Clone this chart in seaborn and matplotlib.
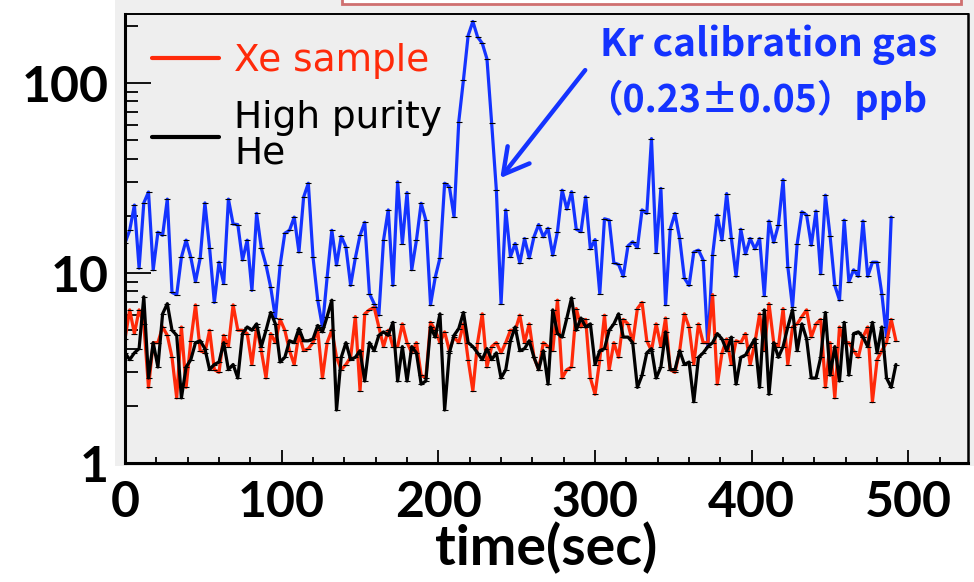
import numpy as np
import pandas as pd
import matplotlib
matplotlib.use('Agg')
import matplotlib.pyplot as plt
import seaborn as sns
from matplotlib.patches import Rectangle
from matplotlib.lines import Line2D
from matplotlib.ticker import LogLocator, NullFormatter, MultipleLocator

sns.set_style('ticks')
plt.rcParams['font.family'] = ['DejaVu Sans']

# sampled every 3 s
kr_gas = [14.4, 16.8, 22.8, 10.6, 23.4, 26.7, 10.4, 16.4, 15.8, 24.5, 7.9, 7.7, 12.1, 14.9, 12.1, 9.0, 12.0, 23.4,
          13.5, 7.0, 11.4, 8.8, 24.5, 18.1, 18.0, 11.7, 14.9,
          8.1, 20.6, 13.5, 11.0, 8.4, 5.8, 11.0, 16.2, 16.8, 19.7, 12.9, 25.1, 29.7, 12.1, 7.2, 5.2, 9.5, 16.8,
          11.0, 15.6, 13.7, 8.6, 12.0, 15.8, 18.5, 7.8, 6.9, 6.0, 14.9,
          21.5, 8.6, 30.2, 14.3, 26.5, 10.4, 14.9, 23.3, 19.0, 6.8, 9.5, 12.0, 29.7, 28.5, 19.8, 62.6, 104, 178,
          211, 175, 162, 134, 61.5, 27.3, 6.9, 21.5, 12.2, 14.3,
          11.3, 15.2, 12.0, 15.5, 18.0, 15.5, 17.2, 12.4, 16.5, 27.3, 21.7, 26.8, 17.0, 16.5, 25.2, 13.4, 15.0,
          7.8, 19.3, 19.0, 11.3, 11.1, 9.6, 13.9, 14.6, 13.6, 21.5,
          20.6, 51.0, 12.8, 27.9, 6.8, 17.1, 20.6, 15.2, 9.4, 8.6, 12.9, 13.2, 11.7, 4.1, 12.4, 20.2, 14.9, 26.2,
          15.2, 9.6, 17.0, 12.6, 15.2, 13.4, 15.2, 7.6, 18.8, 14.5,
          17.9, 31.0, 10.8, 6.6, 14.3, 21.0, 20.2, 14.0, 21.2, 9.9, 25.7, 15.6, 8.6, 7.2, 19.0, 9.0, 10.4, 9.6,
          18.8, 9.6, 11.4, 11.4, 7.8, 4.6, 19.7]

xe_sample = [4.5, 6.4, 4.8, 6.4, 5.4, 2.5, 4.3, 4.3, 5.2, 4.7, 3.6, 2.2, 5.2, 2.5, 4.4, 6.8, 3.9, 3.8, 5.0, 3.1,
             3.0, 4.7, 4.1, 6.8, 5.0, 5.0, 4.8,
             3.3, 5.2, 3.9, 2.8, 4.8, 4.3, 5.7, 5.0, 3.9, 3.3, 4.8, 3.9, 4.0, 4.3, 5.0, 2.8, 4.3, 5.0, 3.6, 3.1,
             3.3, 3.6, 5.9, 2.4, 6.1, 6.4, 6.6, 5.2, 4.1,
             5.0, 4.1, 4.1, 5.4, 4.3, 3.8, 4.3, 2.9, 2.8, 5.5, 5.0, 4.3, 4.9, 3.9, 4.6, 4.3, 5.4, 3.5, 2.4, 4.3,
             6.1, 3.2, 4.1, 4.3, 3.8, 4.3, 5.0, 5.0,
             6.0, 4.3, 5.4, 3.6, 3.1, 4.3, 4.1, 3.9, 7.2, 2.8, 3.1, 3.2, 6.5, 5.2, 5.7, 2.8, 2.3, 3.5, 6.0, 3.1,
             4.3, 3.6, 5.7, 5.4, 4.3, 6.5, 7.0,
             4.4, 3.9, 5.4, 4.1, 5.8, 3.1, 3.0, 3.9, 6.1, 5.2, 3.3, 5.4, 4.3, 4.3, 7.7, 2.6, 3.8, 4.5, 3.3, 4.4,
             4.3, 4.8, 3.3, 4.3, 6.1, 3.9, 6.9, 4.3,
             4.1, 6.5, 3.3, 5.2, 5.4, 5.9, 6.4, 4.6, 5.4, 5.7, 2.5, 4.3, 2.2, 5.2, 4.3, 4.3, 3.9, 3.6, 4.6, 5.2,
             2.1, 3.5, 3.9, 4.3, 5.7, 4.4]

he_purity = [3.8, 3.5, 3.8, 4.0, 7.5, 2.8, 4.3, 3.2, 6.1, 6.9, 5.0, 4.7, 2.2, 3.2, 3.5, 4.3, 4.4, 4.0, 3.1, 3.3,
             3.4, 4.3, 3.1, 3.3, 2.8, 4.8, 5.2,
             5.0, 5.4, 4.1, 5.0, 6.2, 5.4, 3.4, 3.6, 4.4, 4.3, 5.1, 4.4, 4.4, 4.5, 5.3, 4.9, 5.9, 7.2, 1.9, 3.6,
             4.3, 3.5, 3.6, 3.9, 2.7, 4.3, 3.9, 4.7, 4.9,
             4.7, 5.5, 2.7, 4.1, 2.7, 4.1, 3.8, 2.6, 2.7, 5.2, 4.6, 6.1, 1.9, 3.8, 4.7, 5.1, 6.2, 4.3, 4.1, 3.8,
             3.5, 4.0, 3.5, 3.8, 2.8, 3.1, 4.4, 5.2,
             3.9, 4.0, 4.4, 3.6, 3.1, 3.9, 2.6, 6.4, 4.8, 4.6, 5.8, 7.4, 5.0, 5.8, 5.2, 5.4, 3.3, 3.9, 4.0, 5.0,
             5.4, 6.1, 4.6, 4.6, 4.3, 2.5, 2.9,
             3.8, 4.0, 2.8, 3.2, 4.9, 3.1, 3.1, 3.9, 3.3, 3.4, 2.1, 3.6, 3.8, 4.1, 4.3, 4.8, 4.5, 3.9, 4.6, 2.6,
             3.6, 3.7, 4.1, 4.5, 2.5, 6.4, 2.3, 4.3,
             3.6, 4.1, 5.2, 6.4, 3.9, 5.4, 4.5, 2.8, 2.8, 3.6, 6.2, 2.9, 4.1, 2.7, 5.5, 2.9, 4.8, 4.9, 4.6, 4.1,
             5.5, 3.8, 5.2, 2.8, 2.5, 3.3]

time_kr = np.arange(len(kr_gas)) * 3
time_xe = np.arange(len(xe_sample)) * 3
time_he = np.arange(len(he_purity)) * 3

blue = '#1433ff'
red = '#ff2a0a'

fig = plt.figure(figsize=(9.74, 5.82), dpi=100)
# slide panel behind the plot
fig.patches.append(Rectangle((115 / 974, 1 - 466 / 582), 1, 1, transform=fig.transFigure,
                             facecolor='#efefef', edgecolor='none', zorder=-5))
fig.patches.append(Rectangle((342 / 974, 1 - 4 / 582), 619 / 974, 0.05, transform=fig.transFigure,
                             facecolor='white', edgecolor='#cf7070', lw=2, zorder=-4))

ax = fig.add_axes([125 / 974, 1 - 463 / 582, 843 / 974, 449 / 582])
ax.set_facecolor('#eeeeee')

mk = dict(marker='_', markersize=4, markeredgewidth=0.8, markeredgecolor='black')
sns.lineplot(x=time_kr, y=kr_gas, color=blue, lw=2.3, ax=ax, **mk)
sns.lineplot(x=time_xe, y=xe_sample, color=red, lw=2.3, ax=ax, **mk)
sns.lineplot(x=time_he, y=he_purity, color='black', lw=2.3, ax=ax, **mk)

ax.set_yscale('log')
ax.set_xlim(0, 538)
ax.set_ylim(1, 231)
ax.set_yticks([1, 10, 100])
ax.set_yticklabels(['1', '10', '100'])
ax.yaxis.set_minor_locator(LogLocator(base=10, subs=np.arange(2, 10)))
ax.yaxis.set_minor_formatter(NullFormatter())
ax.xaxis.set_major_locator(MultipleLocator(100))
ax.xaxis.set_minor_locator(MultipleLocator(20))

for lab in ax.get_xticklabels() + ax.get_yticklabels():
    lab.set_fontfamily('Lato')
    lab.set_fontweight('bold')
    lab.set_fontsize(36)
    lab.set_color('black')

ax.tick_params(axis='y', which='major', direction='in', length=19, width=1.3, pad=12, color='black')
ax.tick_params(axis='y', which='minor', direction='in', length=9.5, width=1.3, color='black')
ax.tick_params(axis='x', which='major', direction='in', length=9.5, width=1.3, pad=12, color='black')
ax.tick_params(axis='x', which='minor', direction='in', length=4.5, width=1.3, color='black')

for side, w in [('left', 2.2), ('bottom', 2.2), ('top', 1.4), ('right', 1.8)]:
    ax.spines[side].set_linewidth(w)
    ax.spines[side].set_color('black')

ax.set_xlabel('time(sec)', family='Lato', weight='bold', size=40, color='black', labelpad=-2)
ax.set_ylabel('')

handles = [Line2D([], [], color=red, lw=3), Line2D([], [], color='black', lw=3)]
leg = ax.legend(handles, ['Xe sample', 'High purity\nHe'], loc='upper left',
                bbox_to_anchor=(0.032, 0.935), frameon=False, fontsize=27,
                handlelength=1.8, handletextpad=0.4, labelspacing=0.55,
                borderpad=0, borderaxespad=0)
for txt, c in zip(leg.get_texts(), [red, 'black']):
    txt.set_color(c)
    txt.set_linespacing(1.0)

ann_font = ['Noto Sans CJK JP', 'DejaVu Sans']
ax.text(0.5635, 0.931, 'Kr calibration gas', transform=ax.transAxes, color=blue,
        fontsize=28, family=ann_font, weight='bold', va='center', ha='left')
ax.text(0.5457, 0.808, '（0.23±0.05）ppb', transform=ax.transAxes, color=blue,
        fontsize=27, family=ann_font, weight='bold', va='center', ha='left')
ax.annotate('', xy=(239.5, 31.6), xytext=(293.7, 117),
            arrowprops=dict(arrowstyle='->,head_length=0.9,head_width=0.5', color=blue, lw=3.2,
                            shrinkA=0, shrinkB=0, mutation_scale=20))

fig.savefig('out.png', dpi=100)
